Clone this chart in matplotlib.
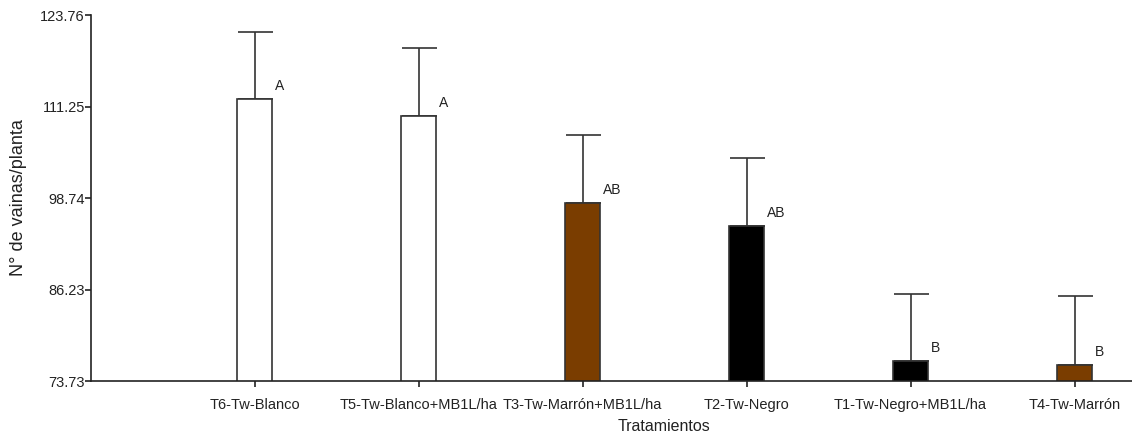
import matplotlib

matplotlib.use("Agg")
import matplotlib.pyplot as plt  # noqa: E402

plt.rcParams["font.family"] = ["Liberation Sans", "DejaVu Sans"]

# Treatment means, upper error limits and significance letters
treatments = [
    "T6-Tw-Blanco",
    "T5-Tw-Blanco+MB1L/ha",
    "T3-Tw-Marrón+MB1L/ha",
    "T2-Tw-Negro",
    "T1-Tw-Negro+MB1L/ha",
    "T4-Tw-Marrón",
]
means = [112.29, 110.0, 98.07, 94.96, 76.51, 75.96]
upper = [121.49, 119.26, 107.36, 104.22, 85.67, 85.31]
letters = ["A", "A", "AB", "AB", "B", "B"]
fills = ["white", "white", "#7A3D00", "black", "black", "#7A3D00"]
y_ticks = [73.73, 86.23, 98.74, 111.25, 123.76]

W, H = 1132, 436
fig = plt.figure(figsize=(W / 100, H / 100), dpi=100)
# plot area runs a little past the right edge of the canvas
ax = fig.add_axes([90.5 / W, 55 / H, 1148 / W, 366 / H])

edge = "#333333"
x = list(range(len(treatments)))
errs = [u - m for u, m in zip(upper, means)]

ax.bar(x, means, width=0.213, color=fills, edgecolor=edge, linewidth=1.2,
       bottom=0, zorder=2)
ax.errorbar(x, means, yerr=[[0] * len(x), errs], fmt="none", ecolor=edge,
            elinewidth=1.2, capsize=12.6, capthick=1.2, zorder=1)

for xi, m, lab in zip(x, means, letters):
    ax.annotate(lab, (xi + 0.126, m), xytext=(0, 4), textcoords="offset points",
                ha="left", va="bottom", fontsize=10, color="#222222")

ax.set_xlim(-1, 6)
ax.set_ylim(y_ticks[0], y_ticks[-1])
ax.set_yticks(y_ticks)
ax.set_yticklabels([f"{v:.2f}" for v in y_ticks])
ax.set_xticks(x)
ax.set_xticklabels(treatments, fontsize=10.5)

for side in ("top", "right"):
    ax.spines[side].set_visible(False)
for side in ("left", "bottom"):
    ax.spines[side].set_color("#222222")
    ax.spines[side].set_linewidth(1.2)

ax.tick_params(axis="both", colors="#222222", labelcolor="#222222",
               length=4, width=1.2)
ax.tick_params(axis="y", pad=0, labelsize=10.5)
ax.tick_params(axis="x", pad=8)

ax.set_ylabel("N° de vainas/planta", fontsize=13, color="#222222")
ax.yaxis.set_label_coords(-63 / 1148, 0.5)
ax.set_xlabel("Tratamientos", fontsize=11.5, color="#222222", labelpad=5)

fig.savefig("out.png", dpi=100)
